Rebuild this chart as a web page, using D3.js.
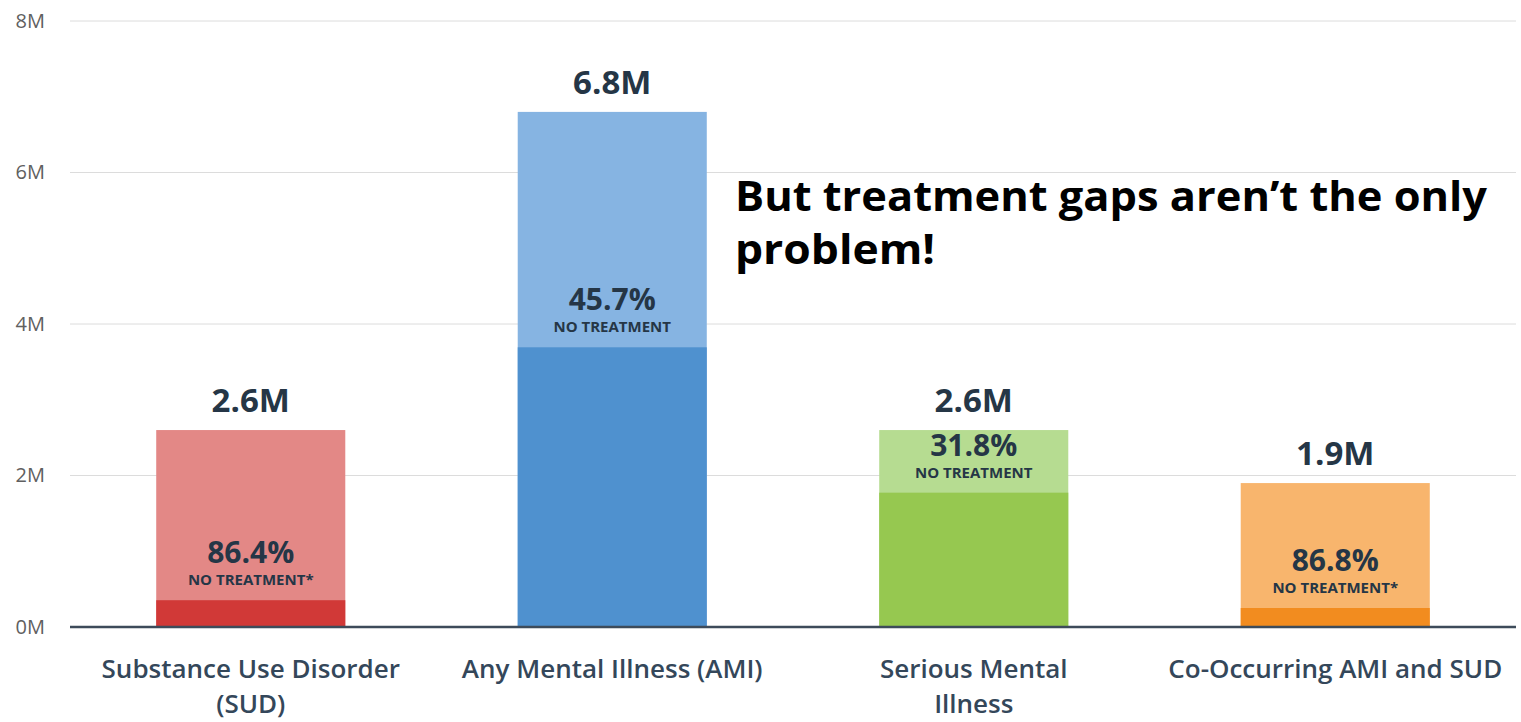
<!DOCTYPE html>
<html>
<head>
<meta charset="utf-8">
<script src="https://d3js.org/d3.v7.min.js"></script>
<style>
  html, body { margin: 0; padding: 0; background: #ffffff; }
  svg { display: block; }
</style>
</head>
<body>
<svg id="chart" width="1521" height="722"></svg>
<script>
// ---- data ----
const categories = ["Substance Use Disorder (SUD)", "Any Mental Illness (AMI)", "Serious Mental Illness", "Co-Occurring AMI and SUD"];
const categoryLines = [["Substance Use Disorder", "(SUD)"], ["Any Mental Illness (AMI)"], ["Serious Mental", "Illness"], ["Co-Occurring AMI and SUD"]];
const totals = [2.6, 6.8, 2.6, 1.9];               // millions
const noTreatmentPct = [86.4, 45.7, 31.8, 86.8];
const noTreatmentNote = ["NO TREATMENT*", "NO TREATMENT", "NO TREATMENT", "NO TREATMENT*"];
const lightColors = ["#e38886", "#86b4e2", "#b6dc91", "#f8b56d"];
const darkColors = ["#d13937", "#4f91cf", "#96c850", "#f28c1f"];
const yTicks = [0, 2, 4, 6, 8];
const titleLines = ["But treatment gaps aren\u2019t the only", "problem!"];

(function () {
const svg = d3.select("#chart");
const mLeft = 70, mRight = 1516, mTop = 21, mBottom = 627;

const x = d3.scaleBand().domain(categories).range([mLeft, mRight]).paddingInner(0.477).paddingOuter(0.2385);
const y = d3.scaleLinear().domain([0, 8]).range([mBottom, mTop]);

// gridlines
svg.append("g").selectAll("line").data(yTicks.filter(t => t > 0)).join("line")
  .attr("x1", mLeft).attr("x2", mRight)
  .attr("y1", d => y(d)).attr("y2", d => y(d))
  .attr("stroke", "#dcdcdc").attr("stroke-width", 1);

// y axis labels
const yAxis = d3.axisLeft(y).tickValues(yTicks).tickFormat(d => d + "M").tickSize(0).tickPadding(25);
const yg = svg.append("g").attr("transform", `translate(${mLeft},0)`).call(yAxis);
yg.select(".domain").remove();
yg.selectAll("text").attr("font-family", "'Open Sans', sans-serif").attr("font-size", 20).attr("fill", "#606060");

const data = categories.map((c, i) => ({
  c, i, total: totals[i], pct: noTreatmentPct[i],
  treated: totals[i] * (1 - noTreatmentPct[i] / 100)
}));

// light (total) bars
svg.append("g").selectAll("rect").data(data).join("rect")
  .attr("x", d => x(d.c)).attr("width", x.bandwidth())
  .attr("y", d => y(d.total)).attr("height", d => y(0) - y(d.total))
  .attr("fill", d => lightColors[d.i]);

// dark (treated) bars
svg.append("g").selectAll("rect").data(data).join("rect")
  .attr("x", d => x(d.c)).attr("width", x.bandwidth())
  .attr("y", d => y(d.treated)).attr("height", d => y(0) - y(d.treated))
  .attr("fill", d => darkColors[d.i]);

// baseline
svg.append("line").attr("x1", mLeft).attr("x2", mRight).attr("y1", y(0)).attr("y2", y(0))
  .attr("stroke", "#3d4b5a").attr("stroke-width", 2.5);

const txt = "#253646";
// total labels
svg.append("g").selectAll("text").data(data).join("text")
  .attr("x", d => x(d.c) + x.bandwidth() / 2).attr("y", d => y(d.total) - 18)
  .attr("text-anchor", "middle").attr("font-family", "'Open Sans', sans-serif")
  .attr("font-weight", 700).attr("font-size", 33).attr("fill", txt)
  .text(d => d.total.toFixed(1) + "M");

// pct labels
svg.append("g").selectAll("text").data(data).join("text")
  .attr("x", d => x(d.c) + x.bandwidth() / 2).attr("y", d => y(d.treated) - 37)
  .attr("text-anchor", "middle").attr("font-family", "'Open Sans', sans-serif")
  .attr("font-weight", 700).attr("font-size", 30).attr("fill", txt)
  .text(d => d.pct.toFixed(1) + "%");

svg.append("g").selectAll("text").data(data).join("text")
  .attr("x", d => x(d.c) + x.bandwidth() / 2).attr("y", d => y(d.treated) - 15)
  .attr("text-anchor", "middle").attr("font-family", "'Open Sans', sans-serif")
  .attr("font-weight", 700).attr("font-size", 15).attr("fill", txt)
  .text(d => noTreatmentNote[d.i]);

// category labels
const cg = svg.append("g").selectAll("text").data(data).join("text")
  .attr("text-anchor", "middle").attr("font-family", "'Open Sans', sans-serif")
  .attr("font-weight", 600).attr("font-size", 26).attr("fill", "#34475a");
cg.selectAll("tspan").data(d => categoryLines[d.i].map(l => ({ l, cx: x(d.c) + x.bandwidth() / 2 }))).join("tspan")
  .attr("x", d => d.cx).attr("y", (d, j) => 678 + j * 35).text(d => d.l);

// title
const tg = svg.append("g");
const tw = [752, 200];
titleLines.forEach((t, j) => {
  tg.append("text").attr("x", 735).attr("y", 211 + j * 53)
    .attr("font-family", "'Open Sans', sans-serif").attr("font-weight", 700)
    .attr("font-size", 42).attr("fill", "#000")
    .attr("textLength", tw[j]).attr("lengthAdjust", "spacingAndGlyphs")
    .text(t);
});
})();
</script>
</body>
</html>
